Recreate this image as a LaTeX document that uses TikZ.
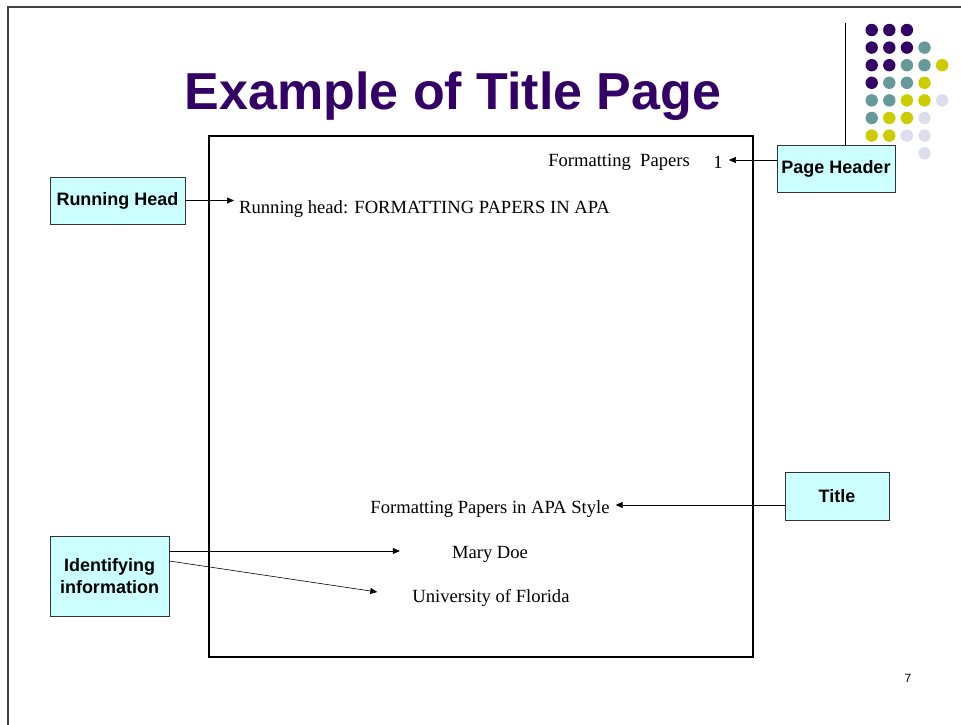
\documentclass[tikz,border=0pt]{standalone}
\usepackage{fontspec}
\setmainfont{Liberation Serif}
\newfontfamily\arial{Liberation Sans}
\usetikzlibrary{arrows.meta}
\definecolor{P}{HTML}{330066}
\definecolor{T}{HTML}{669999}
\definecolor{Y}{HTML}{CCCC00}
\definecolor{L}{HTML}{DDDDEE}
\definecolor{W}{HTML}{FFFFFF}
\definecolor{boxfill}{HTML}{CCFFFF}

\begin{document}
\begin{tikzpicture}[
x=1pt, y=-1pt,
    C/.style = {rectangle, draw=black!80, line width=0.8pt, fill=boxfill,
                font=\arial\bfseries\fontsize{18}{22}\selectfont,
                align=center, inner sep=0pt},% callout boxes
    S/.style = {inner sep=0pt, font=\fontsize{18.6}{22}\selectfont},% text on the sample page
    A/.style = {-{Triangle[length=7pt,width=6pt]}, line width=0.6pt},
                    ]
\useasboundingbox (0,0) rectangle (961,725);
% slide frame
\draw[black!75, line width=1.4pt] (961,7) -- (8,7) -- (8,725);
\draw[line width=1pt] (845,23) -- (845,145);
% dots in the corner
\foreach \r/\row in {1/{P,P,P},2/{P,P,P,T},3/{P,P,T,T,Y},4/{P,T,T,Y},
                     5/{T,T,Y,Y,L},6/{T,Y,Y,L},7/{Y,Y,L,L},8/{W,W,W,L}}
    \foreach [count=\k] \c in \row
        \fill[\c] ({871.7+(\k-1)*17.6},{30+(\r-1)*17.6}) circle (6.2pt);
\node[text=P, font=\arial\bfseries\fontsize{52}{60}\selectfont] (title) at (453,96) {Example of Title Page};
% the sample page
\draw[line width=2.8pt] (209,136) rectangle (753,657);
\node[S, anchor=east] (hdr) at (690,162) {Formatting~ Papers};
\node[S] (num) at (718,162) {1};
\node[S, anchor=west] (rh) at (239,209) {Running head: FORMATTING PAPERS IN APA};
\node[S] (ttl) at (490,509) {Formatting Papers in APA Style};
\node[S] (name) at (490,554) {Mary Doe};
\node[S] (univ) at (491,598) {University of Florida};
% callouts
\node[C, minimum width=135pt, minimum height=47pt] (RH) at (117.5,200.5) {Running Head};
\node[C, minimum width=118pt, minimum height=47pt] (PH) at (836,168.5) {Page Header};
\node[C, minimum width=104pt, minimum height=48pt] (TL) at (837,496) {Title};
\node[C, minimum width=119pt, minimum height=80pt] (ID) at (109.5,576) {Identifying\\information};
\draw[A] (RH.east) -- ([xshift=-5pt]rh.west |- RH.east);
\draw[A] (PH.west |- 0,160) -- ([xshift=6pt]num.east |- 0,160);
\draw[A] (TL.west |- 0,505) -- ([xshift=6pt]ttl.east |- 0,505);
\draw[A] ([yshift=25pt]ID.east) -- ([xshift=-52pt]name.west |- 0,551);
\draw[A] ([yshift=15pt]ID.east) -- ([xshift=-35pt]univ.west |- 0,592);
\node[font=\arial\fontsize{12}{14}\selectfont] (pg) at (908,678) {7};
    \end{tikzpicture}
\end{document}
